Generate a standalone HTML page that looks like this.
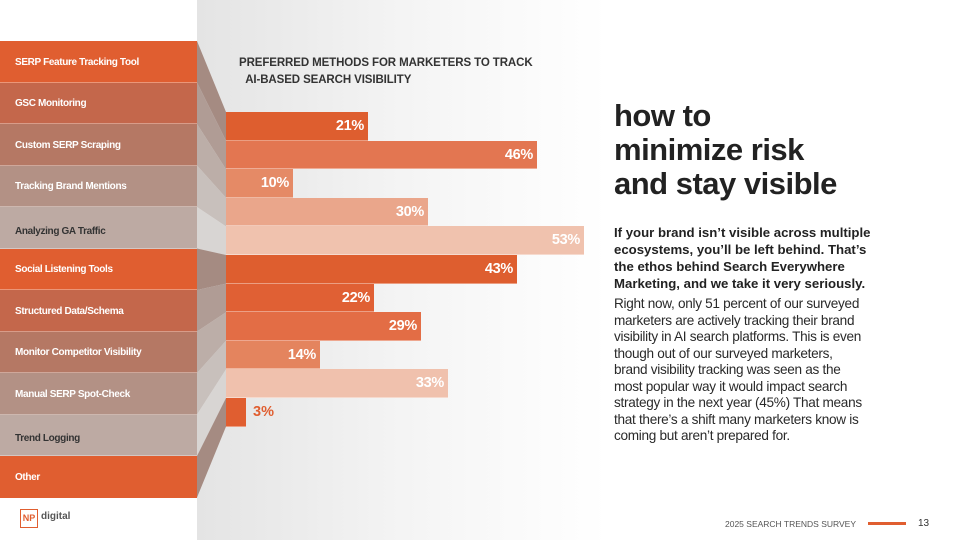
<!DOCTYPE html>
<html><head><meta charset="utf-8"><style>
*{margin:0;padding:0;box-sizing:border-box}
body{width:960px;height:540px;position:relative;overflow:hidden;background:#fff;font-family:"Liberation Sans",sans-serif}
.a{position:absolute;white-space:nowrap}
.row{position:absolute;left:0;width:197px;height:41.5px;font-size:10px;font-weight:bold;color:#fff;padding-left:15px;padding-top:2px;display:flex;align-items:center;border-bottom:1px solid rgba(255,255,255,.35);letter-spacing:-.35px}
.bar{position:absolute;left:226px;height:28.6px;color:#fff;font-weight:bold;font-size:14.5px;text-align:right;padding-right:4px;line-height:29px;border-bottom:1px solid rgba(255,255,255,.4);letter-spacing:-.3px}
.t{position:absolute;left:614px;font-size:31px;font-weight:bold;color:#222;letter-spacing:-.5px}
.b{position:absolute;left:614px;font-size:13.2px;font-weight:bold;color:#222;white-space:nowrap}
.p{position:absolute;left:614px;font-size:13.6px;color:#2a2a2a;white-space:nowrap;letter-spacing:-.3px}
</style></head><body>
<div class="a" style="left:197px;top:0;width:410px;height:540px;background:linear-gradient(90deg,#e4e4e4 0%,#f4f4f4 50%,#fff 100%)"></div>
<svg class="a" style="left:0;top:0" width="240" height="540">
<polygon points="197,41 226,112 226,140.6 197,82.5" fill="#a58b82"/>
<polygon points="197,82.5 226,140.6 226,169.2 197,124" fill="#b09c95"/>
<polygon points="197,124 226,169.2 226,197.8 197,165.5" fill="#bcaea8"/>
<polygon points="197,165.5 226,197.8 226,226.4 197,207" fill="#c8c0bc"/>
<polygon points="197,207 226,226.4 226,255 197,248.5" fill="#d8d5d3"/>
<polygon points="197,248.5 226,255 226,283.6 197,290" fill="#a58b82"/>
<polygon points="197,290 226,283.6 226,312.2 197,331.5" fill="#b09c95"/>
<polygon points="197,331.5 226,312.2 226,340.8 197,373" fill="#bcaea8"/>
<polygon points="197,373 226,340.8 226,369.4 197,414.5" fill="#c8c0bc"/>
<polygon points="197,414.5 226,369.4 226,398 197,456" fill="#d8d5d3"/>
<polygon points="197,456 226,398 226,426.6 197,497.5" fill="#a58b82"/>
</svg>
<div class="row" style="top:41px;background:#e05e30">SERP Feature Tracking Tool</div>
<div class="row" style="top:82.5px;background:#c4674b">GSC Monitoring</div>
<div class="row" style="top:124px;background:#b57864">Custom SERP Scraping</div>
<div class="row" style="top:165.5px;background:#b39185">Tracking Brand Mentions</div>
<div class="row" style="top:207px;background:#bdaaa3;color:#333;padding-top:8px">Analyzing GA Traffic</div>
<div class="row" style="top:248.5px;background:#e05e30">Social Listening Tools</div>
<div class="row" style="top:290px;background:#c4674b">Structured Data/Schema</div>
<div class="row" style="top:331.5px;background:#b57864">Monitor Competitor Visibility</div>
<div class="row" style="top:373px;background:#b39185">Manual SERP Spot-Check</div>
<div class="row" style="top:414.5px;background:#bdaaa3;color:#333;padding-top:8px">Trend Logging</div>
<div class="row" style="top:456px;background:#e05e30;border:none">Other</div>

<div class="a" style="left:239px;top:55px;font-size:11.5px;font-weight:bold;color:#333;line-height:17px;letter-spacing:-.1px">PREFERRED METHODS FOR MARKETERS TO TRACK<br>&nbsp;&nbsp;AI-BASED SEARCH VISIBILITY</div>

<div class="bar" style="top:112px;width:142px;background:#de5e2f">21%</div>
<div class="bar" style="top:140.6px;width:311px;background:#e37651">46%</div>
<div class="bar" style="top:169.2px;width:67px;background:#e58a66">10%</div>
<div class="bar" style="top:197.8px;width:202px;background:#eaa68b">30%</div>
<div class="bar" style="top:226.4px;width:358px;background:#f0c2ae">53%</div>
<div class="bar" style="top:255px;width:291px;background:#de5e2f">43%</div>
<div class="bar" style="top:283.6px;width:148px;background:#e06034">22%</div>
<div class="bar" style="top:312.2px;width:195px;background:#e36d45">29%</div>
<div class="bar" style="top:340.8px;width:94px;background:#e4845e">14%</div>
<div class="bar" style="top:369.4px;width:222px;background:#f0c1ad">33%</div>
<div class="bar" style="top:398px;width:20px;background:#e05e30"></div>
<div class="a" style="left:253px;top:398px;line-height:29px;font-size:14.5px;font-weight:bold;color:#e05e30">3%</div>

<div class="t" style="top:98px">how to</div>
<div class="t" style="top:132px">minimize risk</div>
<div class="t" style="top:166px">and stay visible</div>

<div class="b" style="top:225px">If your brand isn’t visible across multiple</div>
<div class="b" style="top:242px">ecosystems, you’ll be left behind. That’s</div>
<div class="b" style="top:259px">the ethos behind Search Everywhere</div>
<div class="b" style="top:276px">Marketing, and we take it very seriously.</div>

<div class="p" style="top:296px">Right now, only 51 percent of our surveyed</div>
<div class="p" style="top:312.5px">marketers are actively tracking their brand</div>
<div class="p" style="top:329px">visibility in AI search platforms. This is even</div>
<div class="p" style="top:345.5px">though out of our surveyed marketers,</div>
<div class="p" style="top:362px">brand visibility tracking was seen as the</div>
<div class="p" style="top:378.5px">most popular way it would impact search</div>
<div class="p" style="top:395px">strategy in the next year (45%) That means</div>
<div class="p" style="top:411.5px">that there’s a shift many marketers know is</div>
<div class="p" style="top:428px">coming but aren’t prepared for.</div>

<div class="a" style="left:20px;top:509px;width:18px;height:19px;border:1.5px solid #e05e30;color:#e05e30;font-size:9px;font-weight:bold;text-align:center;line-height:16px">NP</div>
<div class="a" style="left:41px;top:511px;font-size:10px;font-weight:bold;color:#555">digital</div>
<div class="a" style="left:725px;top:519px;font-size:8.5px;color:#555">2025 SEARCH TRENDS SURVEY</div>
<div class="a" style="left:868px;top:522px;width:38px;height:3px;background:#e05e30"></div>
<div class="a" style="left:918px;top:518px;font-size:10px;color:#333">13</div>
</body></html>
